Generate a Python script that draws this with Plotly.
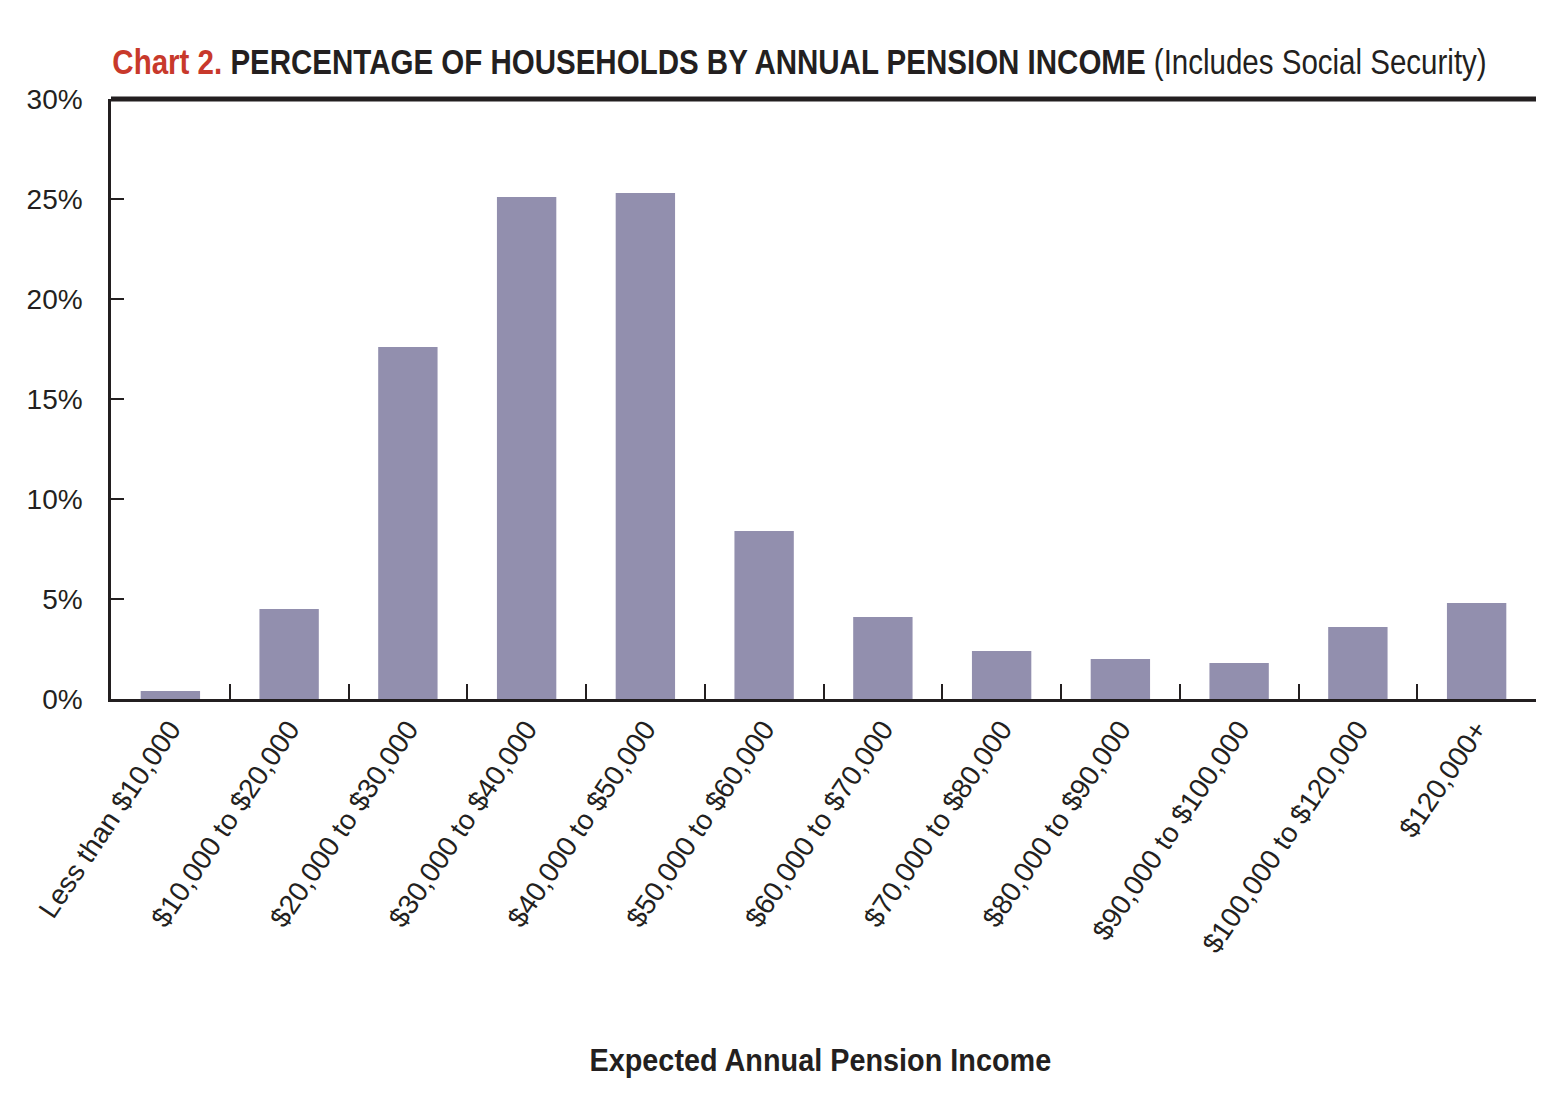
import plotly.graph_objects as go

categories = ["Less than $10,000", "$10,000 to $20,000", "$20,000 to $30,000", "$30,000 to $40,000",
              "$40,000 to $50,000", "$50,000 to $60,000", "$60,000 to $70,000", "$70,000 to $80,000",
              "$80,000 to $90,000", "$90,000 to $100,000", "$100,000 to $120,000", "$120,000+"]
values = [0.4, 4.5, 17.6, 25.1, 25.3, 8.4, 4.1, 2.4, 2.0, 1.8, 3.6, 4.8]
y_ticks = [0, 5, 10, 15, 20, 25, 30]
y_tick_labels = [f"{v}%" for v in y_ticks]

W, H = 1542, 1103
ml, mr, mt, mb = 103, 14, 91, 412
plot_w = W - ml - mr
plot_h = H - mt - mb

def py(px):
    return (H - mb - px) / plot_h

def px_(x):
    return (x - ml) / plot_w

ink = "#231f20"

fig = go.Figure(go.Bar(x=categories, y=values, marker=dict(color="#928fae", line=dict(width=0))))

fig.update_layout(
    width=W, height=H,
    margin=dict(l=ml, r=mr, t=mt, b=mb),
    plot_bgcolor="white", paper_bgcolor="white",
    bargap=0.5,
    showlegend=False,
    font=dict(family="Liberation Sans, Arial, sans-serif", size=28, color=ink),
)
fig.update_xaxes(
    type="category", showgrid=False, showline=True, linecolor=ink, linewidth=2.5,
    ticks="inside", tickson="boundaries", ticklen=15, tickwidth=2, tickcolor=ink,
    tickangle=-56, tickfont=dict(size=28, color=ink), automargin=False,
)
fig.update_yaxes(
    range=[0, 30], showgrid=False, showline=True, linecolor=ink, linewidth=2.5,
    ticks="inside", ticklen=13, tickwidth=2, tickcolor=ink,
    tickvals=y_ticks, ticktext=y_tick_labels, tickfont=dict(size=28, color=ink),
    ticklabelstandoff=20, zeroline=False, automargin=False,
)
fig.add_shape(type="line", xref="paper", yref="paper", x0=0, x1=1, y0=1, y1=1,
              line=dict(color=ink, width=5))
fig.add_annotation(
    xref="paper", yref="paper", x=px_(102), y=py(54), xanchor="left", yanchor="middle", showarrow=False,
    text="<span style='color:#c8392b'><b>Chart 2.</b></span> <b>PERCENTAGE OF HOUSEHOLDS BY ANNUAL PENSION INCOME</b> (Includes Social Security)",
    font=dict(family="Liberation Sans, Arial, sans-serif", size=35, color=ink),
)
fig.add_annotation(
    xref="paper", yref="paper", x=px_(812), y=py(1052), xanchor="center", yanchor="middle",
    showarrow=False, text="<b>Expected Annual Pension Income</b>",
    font=dict(family="Liberation Sans, Arial, sans-serif", size=32, color=ink),
)

# Narrow the two condensed-face texts horizontally (no condensed font installed)
squeeze_js = """
var gd = document.getElementById('{plot_id}');
var widths = {0: [1375, 'left'], 1: [462, 'center']};
gd.querySelectorAll('g.annotation').forEach(function(g){
  var idx = g.getAttribute('data-index');
  if (!(idx in widths)) return;
  var t = g.querySelector('text.annotation-text');
  if (!t) return;
  var bb = t.getBBox();
  var sx = widths[idx][0] / bb.width;
  var cx = widths[idx][1] === 'left' ? bb.x : bb.x + bb.width / 2;
  t.setAttribute('transform', 'translate(' + cx + ',0) scale(' + sx + ',1) translate(' + (-cx) + ',0)');
});
"""

fig.write_html("out.html", post_script=squeeze_js)
